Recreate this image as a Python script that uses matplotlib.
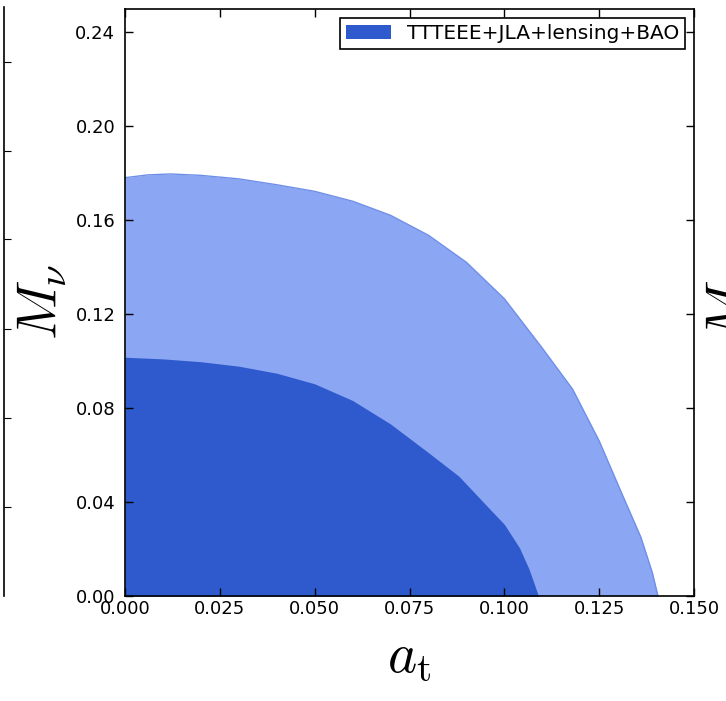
import matplotlib
matplotlib.use("Agg")
import matplotlib.pyplot as plt
from matplotlib.patches import Patch

plt.rcParams['mathtext.fontset'] = 'cm'
plt.rcParams['xtick.direction'] = 'in'
plt.rcParams['ytick.direction'] = 'in'

# 95% contour boundary (light)
outer_at = [0.0, 0.006, 0.012, 0.02, 0.03, 0.04, 0.05, 0.06, 0.07, 0.08, 0.09,
            0.1, 0.11, 0.118, 0.125, 0.131, 0.136, 0.139, 0.1405]
outer_mnu = [0.178, 0.1792, 0.1796, 0.179, 0.1775, 0.175, 0.1722, 0.168, 0.162,
             0.1535, 0.142, 0.1265, 0.1055, 0.088, 0.066, 0.0435, 0.025, 0.010, 0.0]

# 68% contour boundary (dark)
inner_at = [0.0, 0.01, 0.02, 0.03, 0.04, 0.05, 0.06, 0.07, 0.08, 0.088, 0.095,
            0.1, 0.104, 0.1065, 0.109]
inner_mnu = [0.1016, 0.1009, 0.0997, 0.0978, 0.0948, 0.0903, 0.0832, 0.0732,
             0.061, 0.051, 0.039, 0.0305, 0.0205, 0.0115, 0.0]

label = "TTTEEE+JLA+lensing+BAO"
light = "#8ba6f2"
dark = "#2f5acd"

fig = plt.figure(figsize=(7.26, 7.01), dpi=100)

# main panel
ax = fig.add_axes([125/726, 1 - 596/701, (694-125)/726, (596-8.5)/701])
ax.fill_between(outer_at, 0, outer_mnu, color=light, lw=0)
ax.plot(outer_at, outer_mnu, color="#6f8fe8", lw=1.0)
ax.fill_between(inner_at, 0, inner_mnu, color=dark, lw=0)

ax.set_xlim(0, 0.15)
ax.set_ylim(0, 0.25)
ax.set_xticks([0.0, 0.025, 0.05, 0.075, 0.1, 0.125, 0.15])
ax.set_xticklabels(["0.000", "0.025", "0.050", "0.075", "0.100", "0.125", "0.150"])
ax.set_yticks([0.0, 0.04, 0.08, 0.12, 0.16, 0.20, 0.24])
ax.set_yticklabels(["0.00", "0.04", "0.08", "0.12", "0.16", "0.20", "0.24"])
ax.tick_params(top=True, right=True, labelsize=13, length=6, width=1)
ax.tick_params(axis="x", pad=3)
ax.tick_params(axis="y", pad=7)
for s in ax.spines.values():
    s.set_linewidth(1.2)

ax.set_xlabel(r"$a_{\rm t}$", fontsize=40, labelpad=8)
ax.set_ylabel(r"$M_\nu$", fontsize=40, labelpad=4)

leg = ax.legend(handles=[Patch(facecolor=dark, label=label)], loc="upper right",
                fontsize=14.5, fancybox=False, framealpha=1, borderaxespad=0.45,
                handlelength=2.2, borderpad=0.3)
leg.get_frame().set_edgecolor("black")
leg.get_frame().set_linewidth(1.2)

# sliver of the neighbouring panel on the left
axl = fig.add_axes([-0.5, 1 - 596/701, 0.5 + 4/726, (596-7)/701])
axl.set_xlim(0, 1)
axl.set_ylim(596, 7)
for name in ["left", "top", "bottom"]:
    axl.spines[name].set_visible(False)
axl.spines["right"].set_linewidth(1.2)
axl.set_xticks([])
axl.yaxis.tick_right()
axl.set_yticks([62, 151, 239, 329, 418, 507])
axl.tick_params(axis="y", direction="out", length=5, labelright=False)

# label of the neighbouring panel on the right, cut by the edge
fig.text(732/726, 1 - 302/701, r"$M_\nu$", fontsize=40, rotation=90,
         ha="center", va="center")

fig.savefig("out.png", dpi=100)
